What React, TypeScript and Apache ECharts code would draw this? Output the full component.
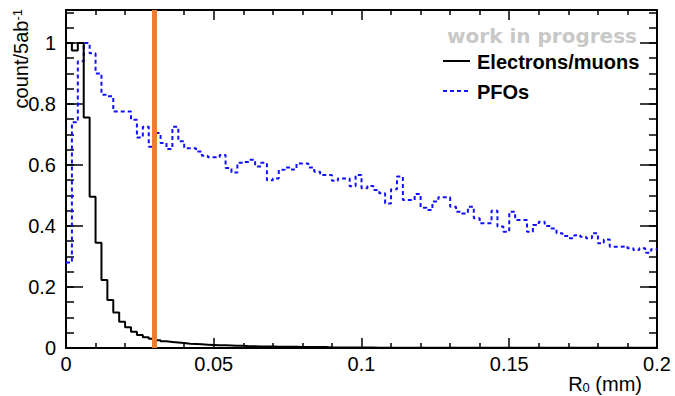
import React, { useEffect, useRef } from "react";
import * as echarts from "echarts";

// ---- data ----
const BIN_WIDTH = 0.002; // mm, 100 bins from 0 to 0.2
const THRESHOLD = 0.03; // mm (orange cut line)

const electronMuonCounts = [
  1.0, 0.975, 1.0, 0.756, 0.496, 0.345, 0.223, 0.157, 0.116, 0.086,
  0.068, 0.053, 0.043, 0.035, 0.03, 0.025, 0.022, 0.02, 0.018, 0.016,
  0.014, 0.013, 0.012, 0.011, 0.01, 0.009, 0.009, 0.008, 0.007, 0.007,
  0.006, 0.006, 0.005, 0.005, 0.005, 0.004, 0.004, 0.004, 0.004, 0.003,
  0.003, 0.003, 0.003, 0.003, 0.002, 0.002, 0.002, 0.002, 0.002, 0.002,
  0.002, 0.002, 0.001, 0.001, 0.001, 0.001, 0.001, 0.001, 0.001, 0.001,
  0.001, 0.001, 0.001, 0.001, 0.001, 0.001, 0.001, 0.001, 0.001, 0.001,
  0.001, 0.001, 0.001, 0.001, 0.001, 0.001, 0.001, 0.001, 0.001, 0.001,
  0.001, 0.001, 0.001, 0.001, 0.001, 0.001, 0.001, 0.001, 0.001, 0.001,
  0.001, 0.001, 0.001, 0.001, 0.001, 0.001, 0.001, 0.001, 0.001, 0.001,
];

const pfoCounts = [
  0.28, 0.74, 0.94, 1.0, 0.966, 0.9, 0.83, 0.825, 0.775, 0.775,
  0.775, 0.748, 0.69, 0.725, 0.66, 0.705, 0.672, 0.652, 0.725, 0.678,
  0.655, 0.655, 0.644, 0.63, 0.625, 0.625, 0.633, 0.59, 0.575, 0.607,
  0.61, 0.617, 0.595, 0.607, 0.55, 0.556, 0.584, 0.592, 0.585, 0.605,
  0.605, 0.592, 0.578, 0.567, 0.567, 0.548, 0.556, 0.556, 0.53, 0.567,
  0.524, 0.531, 0.518, 0.507, 0.474, 0.52, 0.562, 0.485, 0.485, 0.505,
  0.46, 0.452, 0.48, 0.494, 0.494, 0.463, 0.447, 0.441, 0.463, 0.425,
  0.409, 0.409, 0.45, 0.398, 0.381, 0.447, 0.42, 0.42, 0.381, 0.403,
  0.414, 0.4, 0.392, 0.376, 0.367, 0.36, 0.37, 0.365, 0.36, 0.376,
  0.343, 0.356, 0.332, 0.332, 0.334, 0.327, 0.321, 0.327, 0.312, 0.324,
];

const xMajorTicks = [0, 0.05, 0.1, 0.15, 0.2];
const yMajorTicks = [0, 0.2, 0.4, 0.6, 0.8, 1];
const Y_MAX = 1.108;
const X_MAX = 0.2;

const legendHeader = "work in progress";
const legendNames = ["Electrons/muons", "PFOs"];

// build step data at bin edges
function histData(values: number[]) {
  const pts: number[][] = values.map((v, i) => [+(i * BIN_WIDTH).toFixed(4), v]);
  pts.push([+(values.length * BIN_WIDTH).toFixed(4), values[values.length - 1]]);
  return pts;
}

const FONT = "'Liberation Sans', Arial, Helvetica, sans-serif";

export default function App() {
  const ref = useRef<HTMLDivElement>(null);
  useEffect(() => {
    if (!ref.current) return;
    const chart = echarts.init(ref.current, undefined, { renderer: "svg" });
    const tickStyle = { color: "#000", width: 1.5 };
    const lineStyle = { color: "#000", width: 2 };
    const baseY = {
      type: "value",
      min: 0,
      max: Y_MAX,
      splitLine: { show: false },
    };
    const baseX = {
      type: "value",
      min: 0,
      max: X_MAX,
      interval: 0.05,
      splitLine: { show: false },
    };
    chart.setOption({
      animation: false,
      backgroundColor: "#fff",
      grid: { left: 66, right: 18, top: 10, bottom: 48, containLabel: false },
      xAxis: [
        {
          ...baseX,
          position: "bottom",
          axisLine: { onZero: false, lineStyle },
          axisTick: { inside: true, length: 10, lineStyle: tickStyle, customValues: xMajorTicks },
          minorTick: { show: true, splitNumber: 5, length: 5, lineStyle: tickStyle },
          axisLabel: {
            color: "#000",
            fontSize: 20,
            fontFamily: FONT,
            margin: 6,
            customValues: xMajorTicks,
            formatter: (v: number) => String(+v.toFixed(3)),
          },
        },
        {
          ...baseX,
          position: "top",
          axisLine: { onZero: false, lineStyle },
          axisTick: { inside: true, length: 10, lineStyle: tickStyle },
          minorTick: { show: true, splitNumber: 5, length: 5, lineStyle: tickStyle },
          axisLabel: { show: false },
        },
      ],
      yAxis: [
        {
          ...baseY,
          position: "left",
          interval: 0.2,
          axisLine: { show: true, onZero: false, lineStyle },
          axisTick: { inside: true, length: 17, lineStyle: tickStyle, customValues: yMajorTicks },
          axisLabel: {
            color: "#000",
            fontSize: 20,
            fontFamily: FONT,
            margin: 10,
            customValues: yMajorTicks,
            formatter: (v: number) =>
              yMajorTicks.some((t) => Math.abs(t - v) < 1e-6) ? String(+v.toFixed(2)) : "",
          },
        },
        {
          ...baseY,
          position: "left",
          interval: 0.05,
          axisLine: { show: false, onZero: false },
          axisTick: { inside: true, length: 8, lineStyle: tickStyle },
          axisLabel: { show: false },
        },
        {
          ...baseY,
          position: "right",
          interval: 0.2,
          axisLine: { show: true, onZero: false, lineStyle },
          axisTick: { inside: true, length: 17, lineStyle: tickStyle, customValues: yMajorTicks },
          axisLabel: { show: false },
        },
        {
          ...baseY,
          position: "right",
          interval: 0.05,
          axisLine: { show: false, onZero: false },
          axisTick: { inside: true, length: 8, lineStyle: tickStyle },
          axisLabel: { show: false },
        },
      ],
      series: [
        {
          name: legendNames[1],
          type: "line",
          step: "end",
          xAxisIndex: 0,
          yAxisIndex: 0,
          data: histData(pfoCounts),
          symbol: "none",
          lineStyle: { color: "#1010ff", width: 2, type: [4, 3] },
          z: 3,
        },
        {
          name: legendNames[0],
          type: "line",
          step: "end",
          xAxisIndex: 0,
          yAxisIndex: 0,
          data: histData(electronMuonCounts),
          symbol: "none",
          lineStyle: { color: "#000", width: 2 },
          z: 4,
          markLine: {
            silent: true,
            symbol: ["none", "none"],
            label: { show: false },
            lineStyle: { color: "#ED7D31", width: 5, type: "solid" },
            data: [{ xAxis: THRESHOLD }],
            z: 10,
          },
        },
      ],
      graphic: [
        {
          type: "text",
          x: 21,
          y: 9,
          rotation: Math.PI / 2,
          style: {
            text: "{a|count/5ab}{s|-1}",
            align: "right",
            verticalAlign: "middle",
            fill: "#000",
            rich: {
              a: { fontSize: 20, fontFamily: FONT, fill: "#000" },
              s: { fontSize: 13, fontFamily: FONT, fill: "#000", verticalAlign: "top" },
            },
          },
        },
        {
          type: "text",
          x: 642,
          y: 384,
          style: {
            text: "{a|R}{s|0}{a| (mm)}",
            align: "right",
            verticalAlign: "middle",
            fill: "#000",
            rich: {
              a: { fontSize: 20, fontFamily: FONT, fill: "#000" },
              s: { fontSize: 13, fontFamily: FONT, fill: "#000", verticalAlign: "bottom", padding: [6, 0, 0, 0] },
            },
          },
        },
        {
          type: "text",
          x: 542,
          y: 36,
          style: {
            text: legendHeader,
            align: "center",
            verticalAlign: "middle",
            fill: "#c8c8c8",
            fontSize: 20,
            fontWeight: "bold",
            fontFamily: "'DejaVu Sans', sans-serif",
          },
        },
        {
          type: "line",
          shape: { x1: 443, y1: 61, x2: 470, y2: 61 },
          style: { stroke: "#000", lineWidth: 2 },
        },
        {
          type: "text",
          x: 477,
          y: 62,
          style: {
            text: legendNames[0],
            align: "left",
            verticalAlign: "middle",
            fill: "#000",
            fontSize: 20,
            fontWeight: "bold",
            fontFamily: FONT,
          },
        },
        {
          type: "line",
          shape: { x1: 443, y1: 91, x2: 470, y2: 91 },
          style: { stroke: "#1010ff", lineWidth: 2, lineDash: [4, 3] },
        },
        {
          type: "text",
          x: 477,
          y: 92,
          style: {
            text: legendNames[1],
            align: "left",
            verticalAlign: "middle",
            fill: "#000",
            fontSize: 20,
            fontWeight: "bold",
            fontFamily: FONT,
          },
        },
      ],
    });
    return () => chart.dispose();
  }, []);
  return (
    <div
      ref={ref}
      style={{ position: "fixed", left: 0, top: 0, width: 675, height: 396, background: "#fff" }}
    />
  );
}
